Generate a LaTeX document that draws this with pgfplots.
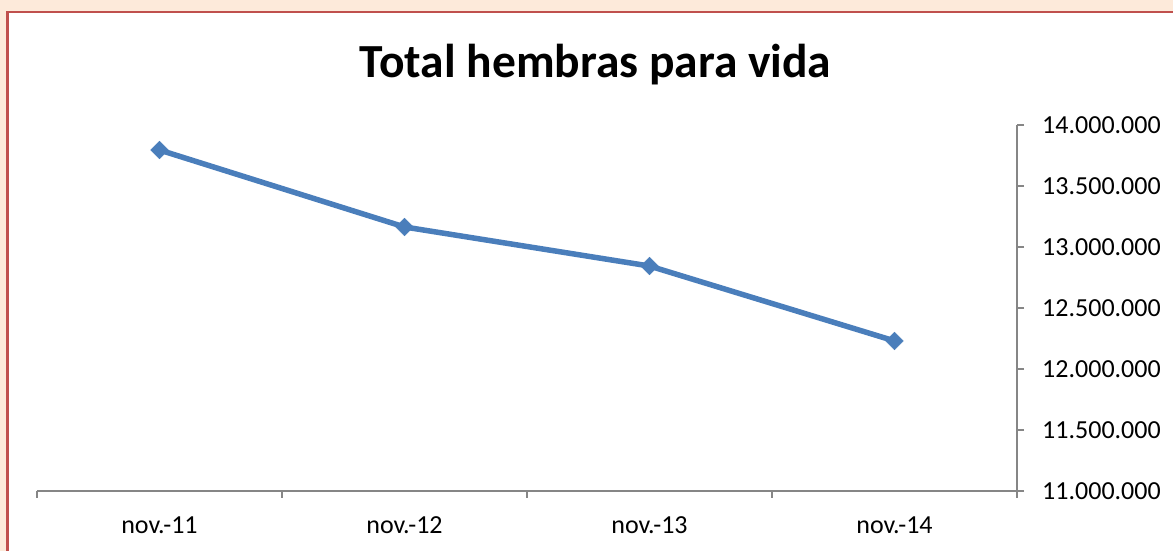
\documentclass[border=0pt]{standalone}
\usepackage{pgfplots}
\pgfplotsset{compat=1.18}
\usepackage{fontspec}
\setmainfont{Carlito}
\definecolor{peach}{RGB}{253,234,218}
\definecolor{framered}{RGB}{192,80,77}
\definecolor{serieblue}{RGB}{74,126,187}
\definecolor{axgray}{RGB}{134,134,134}
\begin{document}
\begin{tikzpicture}[x=1bp,y=1bp]
\clip (0,0) rectangle (1173,551);
\fill[peach] (0,0) rectangle (1173,551);
\filldraw[fill=white, draw=framered, line width=2.5bp] (7.7,-20) rectangle (1200,539);
\node[font=\bfseries\fontsize{47.5bp}{56bp}\selectfont, anchor=base] at (595.5,473) {Total hembras para vida};
\begin{axis}[
  at={(37bp,60bp)}, anchor=south west,
  scale only axis, width=980bp, height=366bp,
  xmin=-0.5, xmax=3.5, ymin=11000000, ymax=14000000,
  axis x line*=bottom, axis y line*=right,
  axis line style={axgray, line width=1.3bp},
  every tick/.style={axgray, line width=1.3bp},
  tick align=outside,
  major tick length=7bp, minor tick length=7bp,
  xtick={0,1,2,3},
  xticklabels={nov.-11,nov.-12,nov.-13,nov.-14},
  major x tick style={draw=none},
  minor xtick={-0.5,0.5,1.5,2.5,3.5},
  ytick={11000000,11500000,...,14000000},
  scaled y ticks=false,
  /pgf/number format/.cd, fixed, 1000 sep={.}, assume math mode=true,
  /pgfplots/.cd,
  ticklabel style={font=\fontsize{26bp}{30bp}\selectfont, text=black},
  xticklabel style={anchor=base, inner sep=0pt, yshift=-36bp},
  yticklabel style={anchor=west, inner sep=0pt, xshift=18bp},
  clip=false,
]
\addplot[serieblue, line width=5.5bp, mark=square*, mark size=6.2bp,
  mark options={rotate=45, fill=serieblue, draw=serieblue, line width=0.5bp}]
  coordinates {(0,13795000) (1,13164000) (2,12844000) (3,12230000)};
\end{axis}
\end{tikzpicture}
\end{document}
